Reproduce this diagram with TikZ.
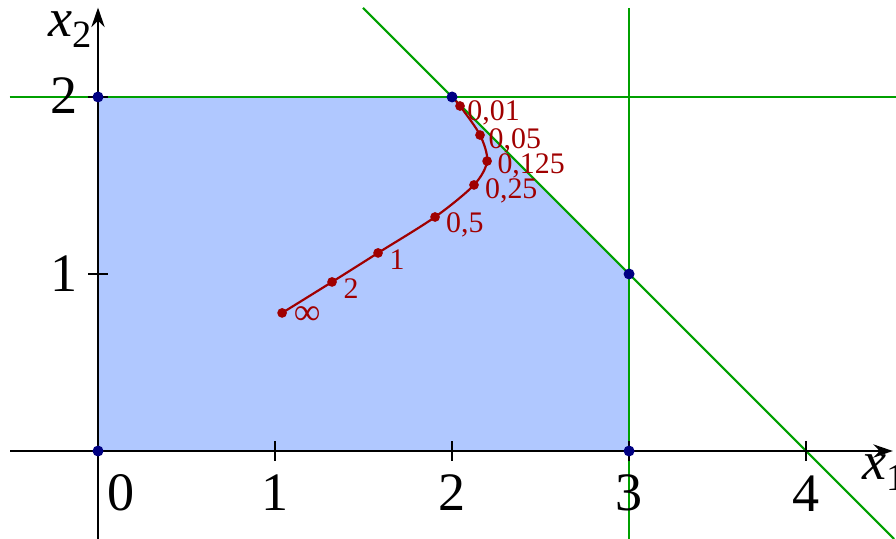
\documentclass[tikz,border=0pt]{standalone}
\usepackage{fontspec}
\setmainfont{Liberation Serif}
\usetikzlibrary{arrows.meta}
\definecolor{fillblue}{RGB}{176,200,255}
\definecolor{lingreen}{RGB}{0,160,0}
\definecolor{ptnavy}{RGB}{0,0,130}
\definecolor{pathred}{RGB}{160,0,0}
\newcommand{\varlab}[1]{\textit{x}\raisebox{-0.45ex}{\fontsize{6.2}{7}\selectfont #1}}
\tikzset{
  axis/.style={black,line width=0.35pt,-{Stealth[length=0.11cm,width=0.075cm]}},
  cline/.style={lingreen,line width=0.35pt},
  vdot/.style={circle,fill=ptnavy,inner sep=0pt,minimum size=0.062cm},
  rdot/.style={circle,fill=pathred,inner sep=0pt,minimum size=0.055cm},
  ticklab/.style={font=\fontsize{8.7}{10}\selectfont,inner sep=0pt},
  rlab/.style={font=\fontsize{4.8}{5.5}\selectfont,text=pathred,inner sep=0pt,anchor=west},
  tickmark/.style={black,line width=0.35pt}
}
\begin{document}
\begin{tikzpicture}[x=1cm,y=1cm]
\useasboundingbox (-0.5537,-0.497) rectangle (4.508,2.548);
% feasible region
\fill[fillblue] (0,0) -- (0,2) -- (2,2) -- (3,1) -- (3,0) -- cycle;
% constraint lines
\draw[cline] (-0.5,2) -- (4.508,2);
\draw[cline] (3,2.503) -- (3,-0.497);
\draw[cline] (1.497,2.503) -- (4.497,-0.497);
% axes
\draw[axis] (-0.497,0) -- (4.49,0);
\draw[axis] (0,-0.497) -- (0,2.505);
% ticks
\foreach \i in {1,2,3,4} \draw[tickmark] (\i,-0.055) -- (\i,0.055);
\foreach \i in {1,2} \draw[tickmark] (-0.055,\i) -- (0.055,\i);
% tick labels
\node[ticklab] (l0) at (0.13,-0.235) {0};
\node[ticklab] (l1) at (1,-0.235) {1};
\node[ticklab] (l2) at (2,-0.235) {2};
\node[ticklab] (l3) at (3,-0.235) {3};
\node[ticklab] (l4) at (4,-0.24) {4};
\node[ticklab] (m1) at (-0.19,1) {1};
\node[ticklab] (m2) at (-0.19,2.01) {2};
\node[ticklab,anchor=west] (xa) at (4.31,-0.12) {\varlab{1}};
\node[ticklab] (ya) at (-0.16,2.38) {\varlab{2}};
% central path
\draw[pathred,line width=0.35pt] plot[smooth,tension=0.5] coordinates {(1.040,0.780) (1.322,0.955) (1.582,1.119) (1.904,1.322) (2.124,1.503) (2.198,1.638) (2.158,1.785) (2.045,1.949) (2,2)};
\node[rdot] (p0) at (1.040,0.780) {};
\node[rdot] (p1) at (1.322,0.955) {};
\node[rdot] (p2) at (1.582,1.119) {};
\node[rdot] (p3) at (1.904,1.322) {};
\node[rdot] (p4) at (2.124,1.503) {};
\node[rdot] (p5) at (2.198,1.638) {};
\node[rdot] (p6) at (2.158,1.785) {};
\node[rdot] (p7) at (2.045,1.949) {};
\node[rlab,font=\fontsize{6}{7}\selectfont] (t0) at (1.10,0.765) {∞};
\node[rlab] (t1) at (1.38,0.92) {2};
\node[rlab] (t2) at (1.64,1.08) {1};
\node[rlab] (t3) at (1.96,1.28) {0,5};
\node[rlab] (t4) at (2.18,1.47) {0,25};
\node[rlab] (t5) at (2.25,1.61) {0,125};
\node[rlab] (t6) at (2.2,1.75) {0,05};
\node[rlab] (t7) at (2.08,1.91) {0,01};
% vertices
\node[vdot] (v1) at (0,0) {};
\node[vdot] (v2) at (0,2) {};
\node[vdot] (v3) at (2,2) {};
\node[vdot] (v4) at (3,1) {};
\node[vdot] (v5) at (3,0) {};
\end{tikzpicture}
\end{document}
